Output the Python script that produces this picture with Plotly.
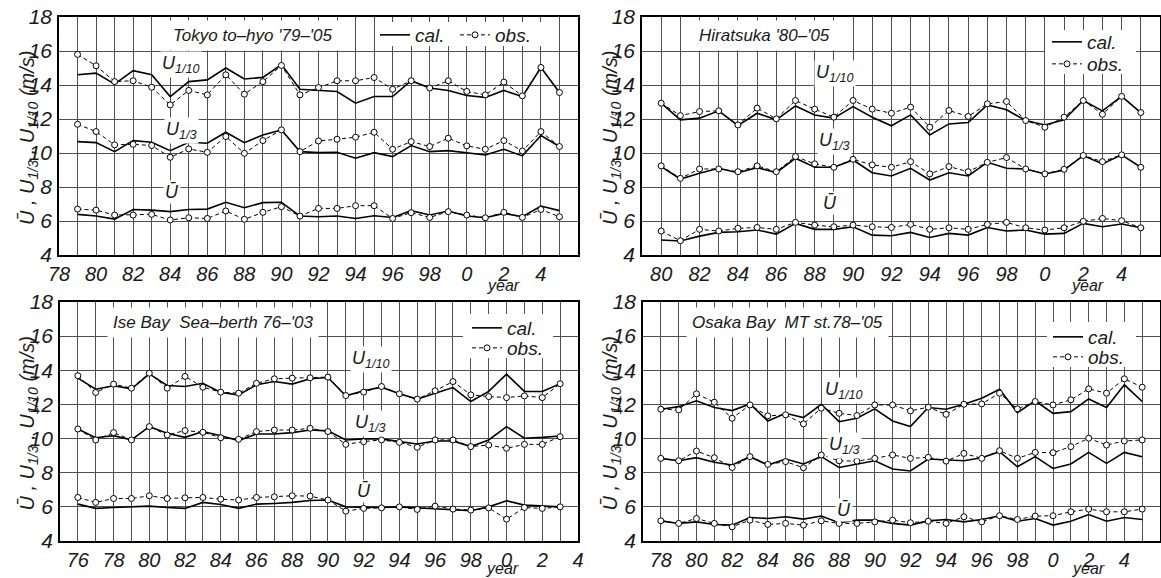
import plotly.graph_objects as go

# ---------------- data ----------------
tokyo_years = list(range(1979, 2006))
tokyo_u10_cal = [14.6, 14.7, 14.05, 14.84, 14.6, 13.32, 14.2, 14.3, 15.0, 14.35, 14.45, 15.2, 13.75, 13.68, 13.62, 12.93, 13.32, 13.32, 14.25, 13.82, 13.68, 13.38, 13.27, 13.68, 13.32, 15.03, 13.56]
tokyo_u10_obs = [15.8, 15.13, 14.2, 14.25, 13.87, 12.83, 13.68, 13.42, 14.6, 13.46, 14.2, 15.15, 13.42, 13.85, 14.25, 14.25, 14.44, 13.75, 14.25, 13.82, 14.25, 13.62, 13.42, 14.17, 13.36, 15.03, 13.56]
tokyo_u3_cal = [10.67, 10.61, 10.08, 10.73, 10.63, 10.14, 10.63, 10.57, 11.22, 10.61, 11.06, 11.36, 10.08, 10.02, 10.04, 9.69, 10.02, 9.79, 10.44, 10.08, 10.14, 10.02, 9.88, 10.22, 9.83, 11.03, 10.38]
tokyo_u3_obs = [11.69, 11.26, 10.48, 10.51, 10.44, 9.75, 10.24, 10.04, 10.97, 9.98, 10.73, 11.36, 10.08, 10.71, 10.81, 10.93, 11.22, 10.22, 10.67, 10.38, 10.87, 10.42, 10.22, 10.73, 10.12, 11.26, 10.38]
tokyo_um_cal = [6.39, 6.29, 6.11, 6.68, 6.64, 6.55, 6.68, 6.70, 7.10, 6.78, 7.08, 7.10, 6.29, 6.25, 6.29, 6.15, 6.31, 6.21, 6.61, 6.35, 6.59, 6.29, 6.19, 6.45, 6.25, 6.88, 6.61]
tokyo_um_obs = [6.70, 6.64, 6.35, 6.35, 6.39, 6.06, 6.19, 6.15, 6.59, 6.10, 6.51, 6.84, 6.29, 6.74, 6.74, 6.90, 6.90, 6.15, 6.49, 6.21, 6.55, 6.35, 6.19, 6.51, 6.21, 6.68, 6.25]

hira_years = list(range(1980, 2006))
hira_u10_cal = [12.93, 11.95, 12.05, 12.48, 11.61, 12.34, 11.95, 12.77, 12.24, 12.05, 12.73, 12.1, 11.6, 12.24, 11.06, 11.71, 11.79, 12.83, 12.54, 11.91, 11.65, 11.95, 13.09, 12.48, 13.33, 12.38]
hira_u10_obs = [12.93, 12.20, 12.44, 12.48, 11.65, 12.64, 12.01, 13.09, 12.58, 12.11, 13.09, 12.58, 12.34, 12.70, 11.52, 12.50, 12.15, 12.89, 13.03, 11.91, 11.52, 12.11, 13.09, 12.28, 13.33, 12.38]
hira_u3_cal = [9.20, 8.47, 8.81, 9.10, 8.84, 9.14, 8.84, 9.69, 9.16, 9.16, 9.59, 8.84, 8.65, 9.10, 8.41, 8.84, 8.65, 9.45, 9.10, 9.06, 8.77, 9.00, 9.85, 9.36, 9.89, 9.16]
hira_u3_obs = [9.24, 8.51, 9.06, 9.06, 8.90, 9.24, 8.90, 9.79, 9.36, 9.16, 9.63, 9.30, 9.16, 9.49, 8.77, 9.20, 8.90, 9.45, 9.73, 9.06, 8.77, 9.04, 9.85, 9.49, 9.89, 9.16]
hira_um_cal = [4.88, 4.82, 5.11, 5.33, 5.37, 5.47, 5.23, 5.86, 5.51, 5.51, 5.66, 5.17, 5.13, 5.33, 5.03, 5.27, 5.17, 5.62, 5.41, 5.47, 5.23, 5.27, 5.86, 5.66, 5.82, 5.60]
hira_um_obs = [5.41, 4.84, 5.51, 5.41, 5.57, 5.62, 5.51, 5.92, 5.76, 5.66, 5.76, 5.66, 5.62, 5.80, 5.51, 5.60, 5.51, 5.80, 5.92, 5.60, 5.47, 5.60, 5.98, 6.15, 6.02, 5.60]

ise_years = list(range(1976, 2004))
ise_u10_cal = [13.54, 12.89, 13.09, 12.91, 13.79, 13.11, 13.05, 13.24, 12.70, 12.56, 13.15, 13.34, 13.19, 13.50, 13.58, 12.50, 12.80, 13.01, 12.62, 12.31, 12.66, 12.99, 12.17, 12.76, 13.77, 12.76, 12.76, 13.21]
ise_u10_obs = [13.68, 12.70, 13.19, 12.95, 13.83, 12.95, 13.64, 13.01, 12.72, 12.66, 13.24, 13.50, 13.54, 13.56, 13.60, 12.52, 12.72, 13.05, 12.62, 12.31, 12.80, 13.34, 12.56, 12.46, 12.40, 12.50, 12.40, 13.21]
ise_u3_cal = [10.56, 10.05, 10.17, 9.92, 10.70, 10.31, 10.07, 10.41, 10.17, 9.88, 10.27, 10.27, 10.35, 10.50, 10.45, 9.92, 9.98, 9.98, 9.82, 9.68, 9.86, 9.86, 9.53, 9.92, 10.70, 10.02, 10.07, 10.15]
ise_u3_obs = [10.56, 9.92, 10.35, 9.92, 10.70, 10.21, 10.47, 10.37, 10.05, 9.96, 10.41, 10.50, 10.50, 10.60, 10.41, 9.66, 9.82, 9.92, 9.78, 9.49, 9.92, 9.92, 9.53, 9.62, 9.43, 9.66, 9.66, 10.11]
ise_um_cal = [6.16, 5.91, 5.96, 6.00, 6.04, 5.96, 5.91, 6.26, 6.14, 5.91, 6.16, 6.20, 6.26, 6.37, 6.40, 6.00, 5.96, 5.96, 6.00, 5.94, 5.91, 5.81, 5.77, 6.00, 6.36, 6.10, 6.06, 6.00]
ise_um_obs = [6.55, 6.26, 6.49, 6.49, 6.65, 6.49, 6.53, 6.55, 6.45, 6.40, 6.55, 6.59, 6.65, 6.63, 6.40, 5.75, 5.91, 5.94, 6.00, 5.85, 6.04, 5.87, 5.81, 5.94, 5.28, 5.96, 5.91, 6.00]

osaka_years = list(range(1978, 2006))
osaka_u10_cal = [11.72, 11.87, 12.21, 11.82, 11.64, 12.03, 11.03, 11.48, 11.23, 12.01, 10.99, 11.19, 11.74, 11.03, 10.70, 11.82, 11.72, 12.01, 12.36, 12.89, 11.52, 12.21, 11.48, 11.58, 12.32, 11.82, 13.15, 12.17]
osaka_u10_obs = [11.72, 11.68, 12.62, 12.13, 11.19, 11.97, 11.33, 11.39, 10.86, 11.78, 11.48, 11.35, 11.97, 11.97, 11.62, 11.84, 11.42, 12.01, 12.03, 12.66, 11.74, 12.17, 11.97, 12.27, 12.91, 12.66, 13.50, 13.01]
osaka_u3_cal = [8.84, 8.70, 8.88, 8.61, 8.45, 8.94, 8.45, 8.80, 8.51, 8.94, 8.31, 8.51, 8.70, 8.22, 8.10, 8.80, 8.74, 8.70, 8.88, 9.23, 8.35, 8.94, 8.25, 8.51, 9.19, 8.55, 9.19, 8.94]
osaka_u3_obs = [8.84, 8.70, 9.27, 8.88, 8.31, 8.94, 8.49, 8.65, 8.29, 9.04, 8.70, 8.68, 8.84, 9.04, 8.84, 8.90, 8.68, 9.13, 8.84, 9.29, 8.84, 9.19, 9.17, 9.53, 10.02, 9.62, 9.86, 9.92]
osaka_um_cal = [5.18, 5.03, 5.12, 4.97, 4.93, 5.38, 5.32, 5.42, 5.28, 5.46, 5.07, 5.22, 5.22, 5.03, 4.93, 5.18, 5.26, 5.12, 5.26, 5.48, 5.16, 5.32, 4.93, 5.16, 5.55, 5.16, 5.38, 5.26]
osaka_um_obs = [5.18, 5.03, 5.32, 5.03, 4.83, 5.22, 4.97, 5.03, 4.93, 5.18, 5.03, 5.03, 5.12, 5.22, 5.07, 5.16, 5.03, 5.42, 5.12, 5.48, 5.26, 5.46, 5.48, 5.71, 5.87, 5.71, 5.71, 5.87]

tokyo_ticks = ["78", "80", "82", "84", "86", "88", "90", "92", "94", "96", "98", "0", "2", "4"]
hira_ticks = ["80", "82", "84", "86", "88", "90", "92", "94", "96", "98", "0", "2", "4"]
ise_ticks = ["76", "78", "80", "82", "84", "86", "88", "90", "92", "94", "96", "98", "0", "2", "4"]
osaka_ticks = ["78", "80", "82", "84", "86", "88", "90", "92", "94", "96", "98", "0", "2", "4"]

y_ticks = ["4", "6", "8", "10", "12", "14", "16", "18"]

station_titles = ["Tokyo to\u2013hyo '79\u2013'05", "Hiratsuka '80\u2013'05",
                  "Ise Bay  Sea\u2013berth 76\u2013'03", "Osaka Bay  MT st.78\u2013'05"]
series_labels = ["U<sub>1/10</sub>", "U<sub>1/3</sub>", "\u016A"]
y_title = "\u016A , U<sub>1/3</sub> , U<sub>1/10</sub> (m/s)"
x_title = "year"
legend_names = ["cal.", "obs."]

# ---------------- layout geometry (pixels) ----------------
W, H = 1161, 578
FONT = "Liberation Sans, Arial, Helvetica, sans-serif"
GRID = "#505050"
TXT = "#1a1a1a"
YMIN, YMAX = 4, 18

panels = [
    dict(years=tokyo_years, cal=[tokyo_u10_cal, tokyo_u3_cal, tokyo_um_cal],
         obs=[tokyo_u10_obs, tokyo_u3_obs, tokyo_um_obs], ticks=tokyo_ticks, first_tick=1978,
         xrange=[1978, 2006], px=(59, 578), py=(17, 255),
         title_pos=(167, 35), lab_pos=[(84.6, 15.2), (84.6, 11.3), (84.1, 7.7)],
         leg_cal=(375, 35), leg_obs=(455, 35), leg_box=(375, 22, 543, 46),
         year_x=2002, title_x=28),
    dict(years=hira_years, cal=[hira_u10_cal, hira_u3_cal, hira_um_cal],
         obs=[hira_u10_obs, hira_u3_obs, hira_um_obs], ticks=hira_ticks, first_tick=1980,
         xrange=[1979, 2006], px=(642, 1160), py=(17, 255),
         title_pos=(693, 35), lab_pos=[(89.05, 14.7), (89.05, 10.65), (88.8, 7.05)],
         leg_cal=(1047, 42), leg_obs=(1047, 64), leg_box=(1045, 30, 1136, 74),
         year_x=2002.2, title_x=611),
    dict(years=ise_years, cal=[ise_u10_cal, ise_u3_cal, ise_um_cal],
         obs=[ise_u10_obs, ise_u3_obs, ise_um_obs], ticks=ise_ticks, first_tick=1976,
         xrange=[1975, 2004], px=(60, 578), py=(302, 541),
         title_pos=(107, 322), lab_pos=[(92.4, 14.66), (92.4, 10.9), (92.0, 6.93)],
         leg_cal=(467, 328), leg_obs=(467, 348), leg_box=(463, 314, 553, 358),
         year_x=1999.8, title_x=28),
    dict(years=osaka_years, cal=[osaka_u10_cal, osaka_u3_cal, osaka_um_cal],
         obs=[osaka_u10_obs, osaka_u3_obs, osaka_um_obs], ticks=osaka_ticks, first_tick=1978,
         xrange=[1977, 2006], px=(643, 1160), py=(302, 541),
         title_pos=(686, 322), lab_pos=[(88.3, 12.84), (88.3, 9.6), (88.3, 5.8)],
         leg_cal=(1048, 337), leg_obs=(1048, 357), leg_box=(1047, 322, 1136, 367),
         year_x=2002, title_x=611),
]

fig = go.Figure()
layout = dict(width=W, height=H, margin=dict(l=0, r=0, t=0, b=0, autoexpand=False),
              paper_bgcolor="white", plot_bgcolor="white", showlegend=True,
              font=dict(family=FONT, color=TXT))
annotations = []
shapes = []

for i, p in enumerate(panels):
    k = i + 1
    sfx = "" if k == 1 else str(k)
    xa, ya = "x" + sfx, "y" + sfx
    leg_c = "legend" if k == 1 else "legend" + str(2 * k - 1)
    leg_o = "legend" + str(2 * k)
    x0, x1 = p["px"]
    y0, y1 = p["py"]
    lo, hi = p["xrange"]

    def px_to_x(v):
        return lo + (v - x0) / (x1 - x0) * (hi - lo)

    def py_to_y(v):
        return YMAX - (v - y0) / (y1 - y0) * (YMAX - YMIN)

    # white box behind the legend (above gridlines, below traces)
    bx0, by0, bx1, by1 = p["leg_box"]
    shapes.append(dict(
        type="rect", xref=xa, yref=ya, layer="between",
        x0=px_to_x(bx0), x1=px_to_x(bx1), y0=py_to_y(by1), y1=py_to_y(by0),
        fillcolor="white", line=dict(width=0)))

    for j in range(3):
        show = (j == 0)
        fig.add_trace(go.Scatter(
            x=p["years"], y=p["cal"][j], mode="lines", name=legend_names[0],
            line=dict(color="black", width=1.6), xaxis=xa, yaxis=ya,
            legend=leg_c, showlegend=show, hoverinfo="skip"))
        fig.add_trace(go.Scatter(
            x=p["years"], y=p["obs"][j], mode="lines+markers", name=legend_names[1],
            line=dict(color="black", width=1, dash="4px,3px"),
            marker=dict(symbol="circle", size=6, color="white",
                        line=dict(color="black", width=1)),
            xaxis=xa, yaxis=ya, legend=leg_o, showlegend=show, hoverinfo="skip"))

    tickvals = [p["first_tick"] + 2 * n for n in range(len(p["ticks"]))]

    layout["xaxis" + sfx] = dict(
        domain=[x0 / W, x1 / W], range=[lo, hi], anchor=ya, automargin=False,
        tickmode="array", tickvals=tickvals, ticktext=p["ticks"],
        showgrid=True, gridcolor=GRID, gridwidth=1, zeroline=False,
        minor=dict(tickmode="linear", tick0=0, dtick=1, showgrid=True,
                   gridcolor=GRID, gridwidth=1, ticks=""),
        showline=True, linecolor="black", linewidth=1.5, mirror=True, ticks="",
        tickfont=dict(family=FONT, size=20, style="italic", color=TXT))
    layout["yaxis" + sfx] = dict(
        domain=[1 - y1 / H, 1 - y0 / H], range=[YMIN, YMAX], anchor=xa, automargin=False,
        tickmode="array", tickvals=[int(t) for t in y_ticks], ticktext=y_ticks,
        showgrid=True, gridcolor=GRID, gridwidth=1, zeroline=False,
        showline=True, linecolor="black", linewidth=1.5, mirror=True, ticks="",
        ticklabelstandoff=1,
        tickfont=dict(family=FONT, size=21, style="italic", color=TXT))

    for name, pos in ((leg_c, p["leg_cal"]), (leg_o, p["leg_obs"])):
        layout[name] = dict(
            x=pos[0] / W, y=1 - pos[1] / H, xanchor="left", yanchor="middle",
            orientation="v", bgcolor="rgba(0,0,0,0)", borderwidth=0,
            font=dict(family=FONT, size=19, style="italic", color=TXT),
            itemwidth=30, tracegroupgap=0)

    # station title
    tx, ty = p["title_pos"]
    annotations.append(dict(
        text=station_titles[i], xref="paper", yref="paper", x=tx / W, y=1 - ty / H,
        xanchor="left", yanchor="middle", showarrow=False, bgcolor="white", borderpad=5,
        font=dict(family=FONT, size=17, style="italic", color=TXT)))

    # series labels
    for j, (lx, ly) in enumerate(p["lab_pos"]):
        annotations.append(dict(
            text=series_labels[j], xref=xa, yref=ya, x=1900 + lx, y=ly,
            showarrow=False, bgcolor="white", borderpad=1,
            font=dict(family=FONT, size=18, style="italic", color=TXT)))

    # "year"
    annotations.append(dict(
        text=x_title, xref=xa, yref="paper", x=p["year_x"],
        y=1 - min(y1 + 30, H - 10) / H,
        yanchor="middle", showarrow=False,
        font=dict(family=FONT, size=16, style="italic", color=TXT)))

    # y-axis title
    annotations.append(dict(
        text=y_title, xref="paper", yref="paper", x=p["title_x"] / W,
        y=1 - ((y0 + y1) / 2 + 2) / H, textangle=-90, showarrow=False,
        xanchor="center", yanchor="middle",
        font=dict(family=FONT, size=20, style="italic", color=TXT)))

layout["annotations"] = annotations
layout["shapes"] = shapes
fig.update_layout(**layout)
fig.write_html("out.html", config={"displayModeBar": False},
               post_script="document.body.style.margin='0px';document.body.style.padding='0px';")
